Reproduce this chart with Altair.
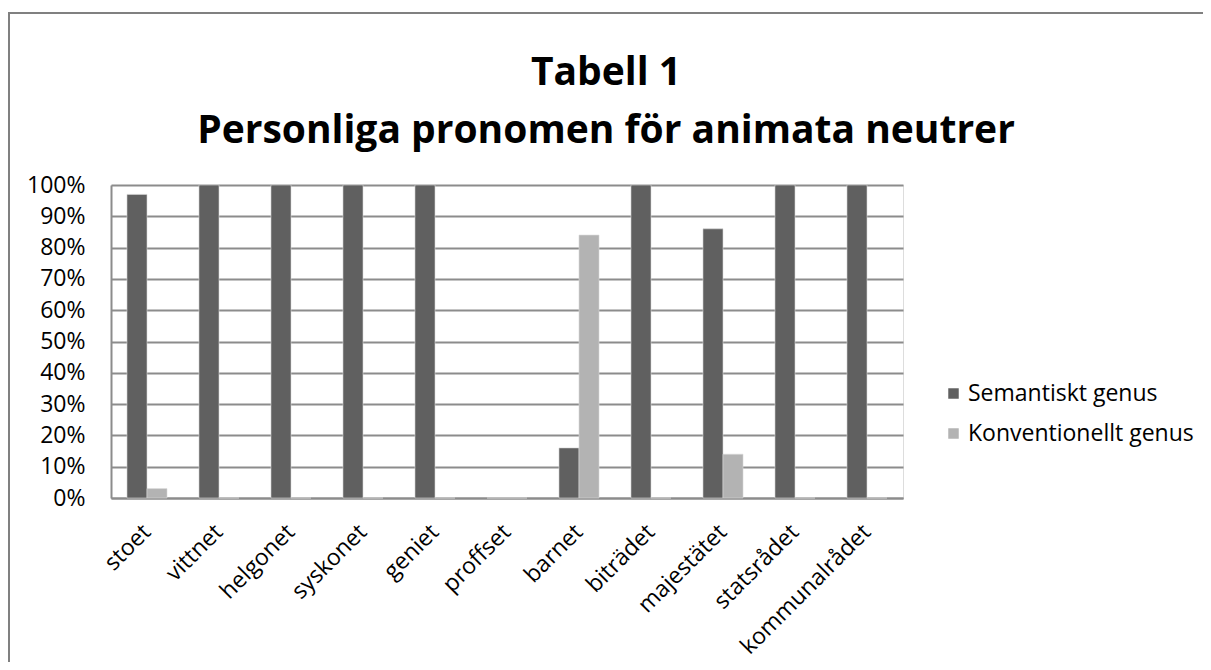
import altair as alt
import pandas as pd

categories = ["stoet", "vittnet", "helgonet", "syskonet", "geniet", "proffset",
              "barnet", "biträdet", "majestätet", "statsrådet", "kommunalrådet"]
series = ["Semantiskt genus", "Konventionellt genus"]
semantiskt = [97, 100, 100, 100, 100, 0, 16, 100, 86, 100, 100]
konventionellt = [3, 0, 0, 0, 0, 0, 84, 0, 14, 0, 0]
y_ticks = [0, 10, 20, 30, 40, 50, 60, 70, 80, 90, 100]
colors = ["#606060", "#b3b3b3"]

rows = []
for c, s, k in zip(categories, semantiskt, konventionellt):
    rows.append({"kategori": c, "serie": series[0], "andel": s})
    rows.append({"kategori": c, "serie": series[1], "andel": k})
df = pd.DataFrame(rows)

FONT = "Open Sans"
LBL = 23

bars = alt.Chart(df).mark_bar(stroke="#d9d9d9", strokeWidth=0.6).encode(
    x=alt.X("kategori:N", sort=categories, title=None,
            scale=alt.Scale(paddingInner=0.444, paddingOuter=0.222),
            axis=alt.Axis(labelAngle=-45, labelAlign="right", labelBaseline="middle",
                          labelPadding=30, ticks=False, domain=True,
                          domainColor="#8c8c8c", domainWidth=2,
                          labelFont=FONT, labelFontSize=LBL, labelColor="#000000",
                          labelLimit=400, grid=False)),
    xOffset=alt.XOffset("serie:N", sort=series),
    y=alt.Y("andel:Q", title=None,
            scale=alt.Scale(domain=[0, 100], nice=False),
            axis=alt.Axis(values=y_ticks, labelExpr="datum.value + '%'",
                          ticks=False, labelPadding=26, domain=True,
                          domainColor="#8c8c8c", domainWidth=2,
                          gridColor="#8c8c8c", gridWidth=2,
                          labelFont=FONT, labelFontSize=LBL, labelColor="#000000")),
    color=alt.Color("serie:N", sort=series,
                    scale=alt.Scale(domain=series, range=colors),
                    legend=alt.Legend(title=None, orient="none", legendX=831, legendY=197,
                                      symbolType="square", symbolSize=110,
                                      symbolStrokeWidth=0, symbolOpacity=1,
                                      labelFont=FONT, labelFontSize=LBL, labelColor="#000000",
                                      labelLimit=400,
                                      rowPadding=16, labelOffset=3, padding=0)),
)

frame = alt.Data(values=[{"a": 1}])
left_border = alt.Chart(frame).mark_rule(color="#808080", strokeWidth=2, clip=False).encode(
    x=alt.value(-102), y=alt.value(-172), y2=alt.value(600))
top_border = alt.Chart(frame).mark_rule(color="#808080", strokeWidth=2, clip=False).encode(
    x=alt.value(-103), x2=alt.value(1200), y=alt.value(-172))

chart = alt.layer(left_border, top_border, bars).properties(
    width=792, height=313,
    autosize=alt.AutoSizeParams(type="none"),
    padding={"left": 103, "top": 177, "right": 300, "bottom": 164},
    title=alt.TitleParams(text=["Tabell 1", "Personliga pronomen för animata neutrer"],
                          font=FONT, fontSize=39, fontWeight="bold", color="#000000",
                          anchor="middle", dx=99, lineHeight=58, offset=-170,
                          baseline="alphabetic"),
).configure_view(stroke=None).configure(background="white")

chart.save("out.html", embed_options={"renderer": "svg", "actions": False})
